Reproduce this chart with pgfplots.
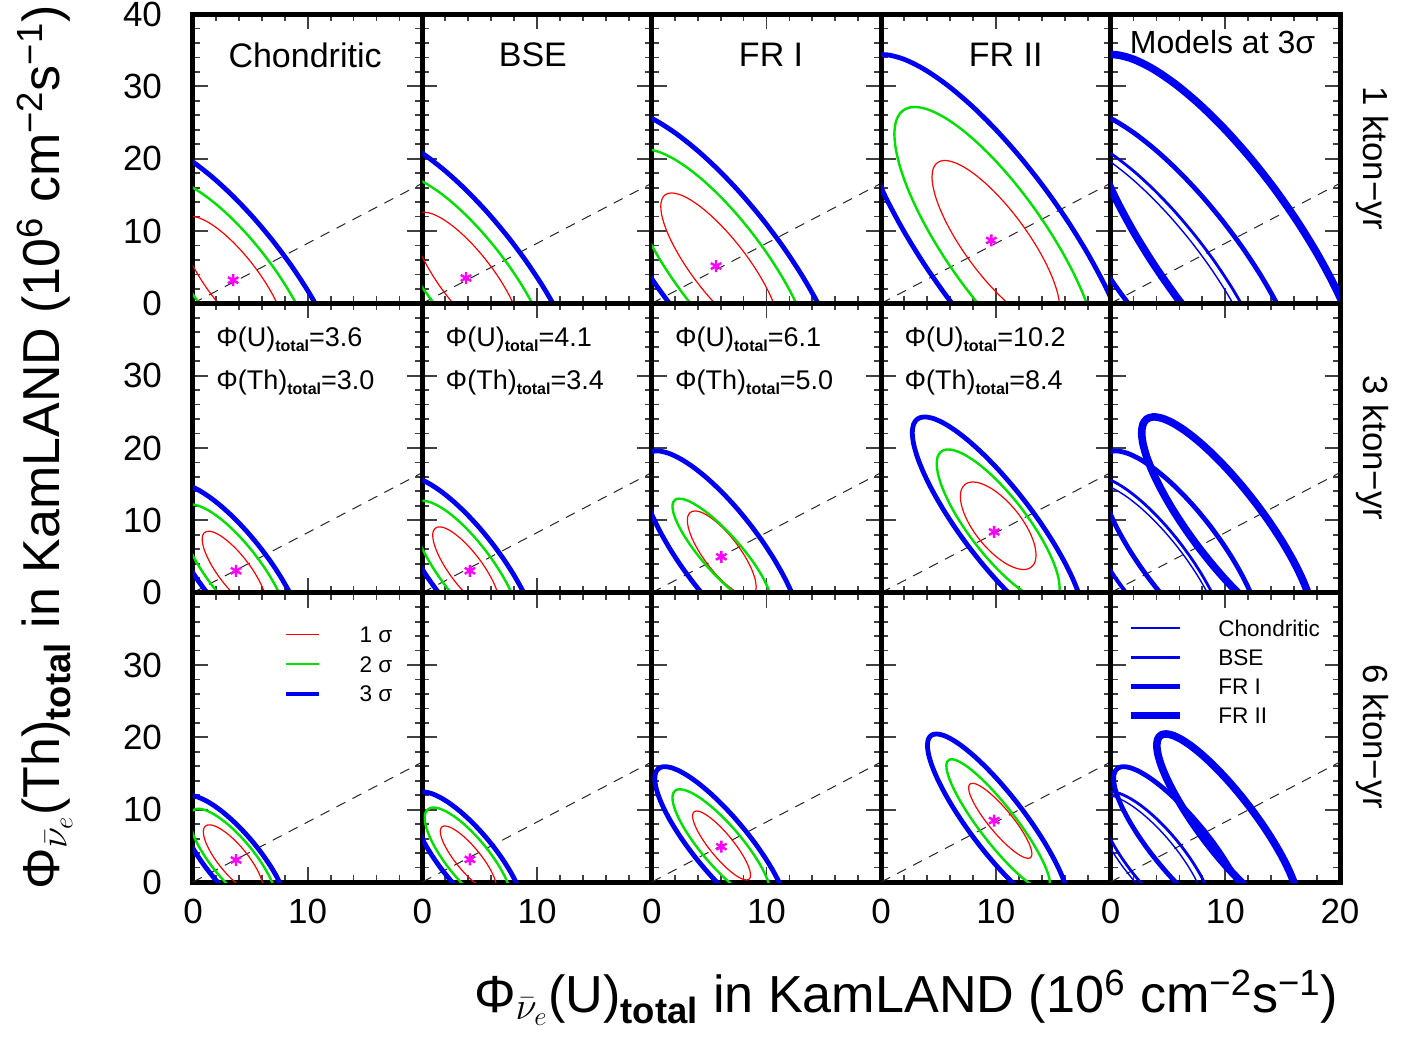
\documentclass[border=0pt]{standalone}
\usepackage{pgfplots}
\pgfplotsset{compat=1.18}
\usepackage{pgfplotstable}
\usepackage{graphicx}
\usepackage{fontspec}
\setmainfont{Liberation Sans}
\definecolor{myred}{RGB}{255,0,0}
\definecolor{mygreen}{RGB}{0,225,0}
\definecolor{myblue}{RGB}{0,0,240}
\definecolor{mymag}{RGB}{255,0,255}

% unit circle (cos, sin) every 10 degrees
\pgfplotstableread{
c s
1 0
0.9848 0.1736
0.9397 0.3420
0.8660 0.5
0.7660 0.6428
0.6428 0.7660
0.5 0.8660
0.3420 0.9397
0.1736 0.9848
0 1
-0.1736 0.9848
-0.3420 0.9397
-0.5 0.8660
-0.6428 0.7660
-0.7660 0.6428
-0.8660 0.5
-0.9397 0.3420
-0.9848 0.1736
-1 0
-0.9848 -0.1736
-0.9397 -0.3420
-0.8660 -0.5
-0.7660 -0.6428
-0.6428 -0.7660
-0.5 -0.8660
-0.3420 -0.9397
-0.1736 -0.9848
0 -1
0.1736 -0.9848
0.3420 -0.9397
0.5 -0.8660
0.6428 -0.7660
0.7660 -0.6428
0.8660 -0.5
0.9397 -0.3420
0.9848 -0.1736
1 0
}\unitcircle

% contour: style, centre x, centre y, half-width X, half-height Y, tilt c
\newcommand{\E}[6]{\addplot[#1, smooth, no markers] table[x expr={#2+#4*\thisrow{c}}, y expr={#3+#5*((#6)*\thisrow{c}-sqrt(1-(#6)*(#6))*\thisrow{s})}]{\unitcircle};}
\newcommand{\DL}{\addplot[black!85, line width=0.5pt, dash pattern=on 5pt off 4pt] coordinates {(0,0) (20,16.6)};}
\newcommand{\MK}[2]{\addplot[only marks, mark=asterisk, mark size=3pt, color=mymag, line width=1.2pt] coordinates {(#1,#2)};}
\newcommand{\ftT}{\fontsize{17}{17}\selectfont}
\newcommand{\ftA}{\fontsize{13.5}{13.5}\selectfont}
\newcommand{\ftL}{\fontsize{11.3}{11.3}\selectfont}
\newcommand{\tot}{\raisebox{-0.35ex}{\fontsize{8}{8}\selectfont\bfseries total}}

\tikzset{
 s1/.style={color=myred, line width=0.6pt},
 s2/.style={color=mygreen, line width=1.2pt},
 s3/.style={color=myblue, line width=2.4pt},
 m1/.style={color=myblue, line width=0.7pt},
 m2/.style={color=myblue, line width=1.4pt},
 m3/.style={color=myblue, line width=2.4pt},
 m4/.style={color=myblue, line width=3.8pt},
}

\pgfplotsset{
 panel/.style={scale only axis, width=114.7pt, height=144.67pt, anchor=south west,
  xmin=0, xmax=20, ymin=0, ymax=40,
  axis line style={line width=2.5pt},
  tick align=inside,
  xtick={0,10,20}, ytick={0,10,20,30,40},
  minor xtick={2,4,6,8,12,14,16,18},
  minor ytick={2,4,6,8,12,14,16,18,22,24,26,28,32,34,36,38},
  major tick length=7.5pt, minor tick length=3.5pt,
  tick style={black!75, line width=0.9pt},
  xticklabels={}, yticklabels={},
  tick label style={font=\fontsize{17.5}{17.5}\selectfont},
  yticklabel style={xshift=-12pt},
  xticklabel style={yshift=-5pt},
 },
}

\begin{document}
\begin{tikzpicture}
\useasboundingbox (-96.5pt,-79pt) rectangle (605pt,441pt);

%================ ROW 1 : 1 kton-yr
\begin{axis}[panel, at={(0pt,289.33pt)}, yticklabels={0,10,20,30,40}]
 \DL
 \E{s1}{3.5}{3.1}{4.55}{8.92}{-0.8}
 \E{s2}{3.5}{3.1}{7.2}{14.1}{-0.8}
 \E{s3}{3.5}{3.1}{9.95}{19.5}{-0.8}
 \MK{3.5}{3.2}
 \node[font=\ftT] at (axis cs:9.77,34.3) {Chondritic};
\end{axis}
\begin{axis}[panel, at={(114.7pt,289.33pt)}]
 \DL
 \E{s1}{3.9}{3.4}{4.7}{9.2}{-0.8}
 \E{s2}{3.9}{3.4}{7.35}{14.4}{-0.8}
 \E{s3}{3.9}{3.4}{10.3}{20.2}{-0.8}
 \MK{3.8}{3.5}
 \node[font=\ftT] at (axis cs:9.63,34.3) {BSE};
\end{axis}
\begin{axis}[panel, at={(229.4pt,289.33pt)}]
 \DL
 \E{s1}{5.94}{5.1}{5.16}{10.16}{-0.818}
 \E{s2}{5.94}{5.1}{8.1}{16.2}{-0.8}
 \E{s3}{5.94}{5.1}{11.1}{21.9}{-0.8}
 \MK{5.6}{5.15}
 \node[font=\ftT] at (axis cs:10.4,34.3) {FR I};
\end{axis}
\begin{axis}[panel, at={(344.1pt,289.33pt)}]
 \DL
 \E{s1}{10}{8.4}{5.57}{11.35}{-0.8}
 \E{s2}{10}{8.4}{8.85}{18.75}{-0.8}
 \E{s3}{10}{8.4}{12.4}{26}{-0.8}
 \MK{9.6}{8.7}
 \node[font=\ftT] at (axis cs:10.85,34.3) {FR II};
\end{axis}
\begin{axis}[panel, at={(458.8pt,289.33pt)}]
 \DL
 \E{m1}{3.5}{3.1}{9.95}{19.5}{-0.8}
 \E{m2}{3.9}{3.4}{10.3}{20.2}{-0.8}
 \E{m3}{5.94}{5.1}{11.1}{21.9}{-0.8}
 \E{m4}{10}{8.4}{12.4}{26}{-0.8}
 \node[font=\fontsize{16}{16}\selectfont] at (axis cs:9.76,36.1) {Models at 3σ};
\end{axis}

%================ ROW 2 : 3 kton-yr
\begin{axis}[panel, at={(0pt,144.67pt)}, yticklabels={0,10,20,30,{}}]
 \DL
 \E{s1}{3.6}{3.0}{2.8}{5.5}{-0.8}
 \E{s2}{3.6}{3.0}{4.7}{9.2}{-0.8}
 \E{s3}{3.6}{3.0}{6.2}{12.15}{-0.8}
 \MK{3.75}{3.02}
 \node[font=\ftA, anchor=west, inner sep=0pt] at (axis cs:2.0,35.06) {Φ(U)\tot=3.6};
 \node[font=\ftA, anchor=west, inner sep=0pt] at (axis cs:2.0,29.0) {Φ(Th)\tot=3.0};
\end{axis}
\begin{axis}[panel, at={(114.7pt,144.67pt)}]
 \DL
 \E{s1}{3.8}{3.3}{2.9}{5.8}{-0.8}
 \E{s2}{3.8}{3.3}{4.7}{9.4}{-0.8}
 \E{s3}{3.8}{3.3}{6.4}{12.8}{-0.8}
 \MK{4.14}{3.02}
 \node[font=\ftA, anchor=west, inner sep=0pt] at (axis cs:2.0,35.06) {Φ(U)\tot=4.1};
 \node[font=\ftA, anchor=west, inner sep=0pt] at (axis cs:2.0,29.0) {Φ(Th)\tot=3.4};
\end{axis}
\begin{axis}[panel, at={(229.4pt,144.67pt)}]
 \DL
 \E{s1}{6.1}{5.4}{3.0}{5.9}{-0.78}
 \E{s2}{6.1}{5.4}{4.3}{7.6}{-0.86}
 \E{s3}{6.1}{5.4}{7.1}{14.2}{-0.8}
 \MK{6.07}{4.96}
 \node[font=\ftA, anchor=west, inner sep=0pt] at (axis cs:2.0,35.06) {Φ(U)\tot=6.1};
 \node[font=\ftA, anchor=west, inner sep=0pt] at (axis cs:2.0,29.0) {Φ(Th)\tot=5.0};
\end{axis}
\begin{axis}[panel, at={(344.1pt,144.67pt)}]
 \DL
 \E{s1}{10.2}{9.25}{3.3}{6.05}{-0.67}
 \E{s2}{10.2}{9.25}{5.36}{10.55}{-0.815}
 \E{s3}{10.2}{9.25}{7.49}{15.05}{-0.856}
 \MK{9.85}{8.4}
 \node[font=\ftA, anchor=west, inner sep=0pt] at (axis cs:2.0,35.06) {Φ(U)\tot=10.2};
 \node[font=\ftA, anchor=west, inner sep=0pt] at (axis cs:2.0,29.0) {Φ(Th)\tot=8.4};
\end{axis}
\begin{axis}[panel, at={(458.8pt,144.67pt)}]
 \DL
 \E{m1}{3.6}{3.0}{6.2}{12.15}{-0.8}
 \E{m2}{3.8}{3.3}{6.4}{12.8}{-0.8}
 \E{m3}{6.1}{5.4}{7.1}{14.2}{-0.8}
 \E{m4}{10.2}{9.25}{7.49}{15.05}{-0.856}
\end{axis}

%================ ROW 3 : 6 kton-yr
\begin{axis}[panel, at={(0pt,0pt)}, yticklabels={0,10,20,30,{}}, xticklabels={0,10,{}}]
 \DL
 \E{s1}{3.5}{3.1}{2.6}{4.81}{-0.8}
 \E{s2}{3.5}{3.1}{3.8}{7.03}{-0.8}
 \E{s3}{3.5}{3.1}{4.8}{8.88}{-0.8}
 \MK{3.75}{3.04}
 \addplot[s1] coordinates {(8.1,34.2) (11.0,34.2)};
 \addplot[s2] coordinates {(8.1,30.1) (11.0,30.1)};
 \addplot[s3] coordinates {(8.1,26.0) (11.0,26.0)};
 \node[font=\ftL] at (axis cs:15.95,34.2) {1 σ};
 \node[font=\ftL] at (axis cs:15.95,30.1) {2 σ};
 \node[font=\ftL] at (axis cs:15.95,26.0) {3 σ};
\end{axis}
\begin{axis}[panel, at={(114.7pt,0pt)}, xticklabels={0,10,{}}]
 \DL
 \E{s1}{4.0}{3.2}{2.44}{4.55}{-0.836}
 \E{s2}{4.0}{3.2}{3.8}{7.1}{-0.8}
 \E{s3}{4.0}{3.2}{4.95}{9.26}{-0.8}
 \MK{4.14}{3.13}
\end{axis}
\begin{axis}[panel, at={(229.4pt,0pt)}, xticklabels={0,10,{}}]
 \DL
 \E{s1}{6.08}{5.05}{2.53}{4.77}{-0.86}
 \E{s2}{6.08}{5.05}{4.28}{7.77}{-0.85}
 \E{s3}{6.08}{5.05}{5.82}{10.9}{-0.85}
 \MK{6.07}{4.88}
\end{axis}
\begin{axis}[panel, at={(344.1pt,0pt)}, xticklabels={0,10,{}}]
 \DL
 \E{s1}{10.38}{8.46}{2.76}{5.19}{-0.88}
 \E{s2}{10.2}{7.9}{4.52}{9.07}{-0.9}
 \E{s3}{10.2}{8.03}{6.17}{12.44}{-0.874}
 \MK{9.85}{8.5}
\end{axis}
\begin{axis}[panel, at={(458.8pt,0pt)}, xticklabels={0,10,20}]
 \DL
 \E{m1}{3.5}{3.1}{4.8}{8.88}{-0.8}
 \E{m2}{4.0}{3.2}{4.95}{9.26}{-0.8}
 \E{m3}{6.08}{5.05}{5.82}{10.9}{-0.85}
 \E{m4}{10.2}{8.03}{6.17}{12.44}{-0.874}
 \addplot[m1] coordinates {(1.74,35.1) (6.02,35.1)};
 \addplot[m2] coordinates {(1.74,31.0) (6.02,31.0)};
 \addplot[m3] coordinates {(1.74,27.0) (6.02,27.0)};
 \addplot[m4] coordinates {(1.74,23.0) (6.02,23.0)};
 \node[font=\ftL, anchor=west, inner sep=0pt] at (axis cs:9.35,35.1) {Chondritic};
 \node[font=\ftL, anchor=west, inner sep=0pt] at (axis cs:9.35,31.0) {BSE};
 \node[font=\ftL, anchor=west, inner sep=0pt] at (axis cs:9.35,27.0) {FR I};
 \node[font=\ftL, anchor=west, inner sep=0pt] at (axis cs:9.35,23.0) {FR II};
\end{axis}

%================ outer labels
\node[rotate=-90, font=\fontsize{17.4}{17.4}\selectfont] at (589.5pt,361.75pt) {1 kton−yr};
\node[rotate=-90, font=\fontsize{17.4}{17.4}\selectfont] at (589.5pt,217pt) {3 kton−yr};
\node[rotate=-90, font=\fontsize{17.4}{17.4}\selectfont] at (589.5pt,72.5pt) {6 kton−yr};

\node[rotate=90, inner sep=0pt] at (-74pt,217.25pt) {\resizebox{442pt}{!}{\fontsize{28}{28}\selectfont Φ\textsubscript{$\bar{\nu}_{e}$}(Th)\textsubscript{\textbf{total}} in KamLAND (10\textsuperscript{6} cm\textsuperscript{−2}s\textsuperscript{−1})}};
\node[inner sep=0pt] at (356.5pt,-58pt) {\resizebox{432pt}{!}{\fontsize{28}{28}\selectfont Φ\textsubscript{$\bar{\nu}_{e}$}(U)\textsubscript{\textbf{total}} in KamLAND (10\textsuperscript{6} cm\textsuperscript{−2}s\textsuperscript{−1})}};
\end{tikzpicture}
\end{document}
